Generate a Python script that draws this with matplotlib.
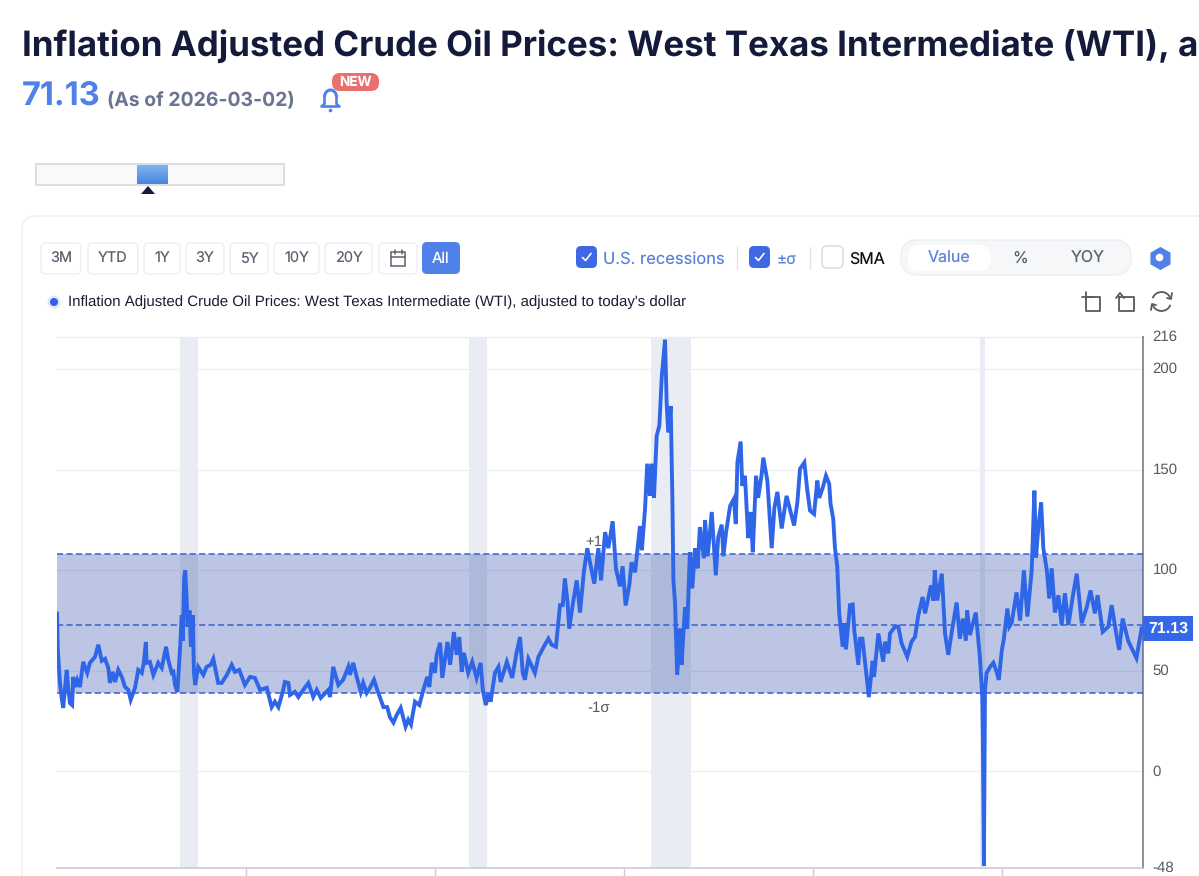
import matplotlib
matplotlib.use("Agg")
import matplotlib.pyplot as plt
from matplotlib.patches import FancyBboxPatch, Rectangle, Circle, Polygon, Arc
from matplotlib.transforms import ScaledTranslation

# ---------- data ----------
years = [1986.00,1986.03,1986.11,1986.17,1986.23,1986.30,1986.36,1986.42,1986.48,1986.56,1986.60,1986.67,1986.75,1986.85,1986.97,
1987.12,1987.22,1987.41,1987.53,1987.66,1987.78,1987.90,1987.96,1988.06,1988.15,1988.27,1988.40,1988.52,1988.64,1988.73,1988.89,
1989.01,1989.14,1989.22,1989.29,1989.32,1989.44,1989.57,1989.75,1989.88,1990.04,1990.12,1990.25,1990.31,1990.37,1990.46,1990.56,
1990.62,1990.66,1990.71,1990.75,1990.80,1990.84,1990.91,1990.96,1991.03,1991.07,1991.12,1991.23,1991.42,1991.54,1991.69,1991.79,
1991.97,1992.10,1992.29,1992.47,1992.59,1992.75,1992.96,1993.15,1993.33,1993.52,1993.77,1993.95,1994.07,1994.20,1994.38,1994.44,
1994.57,1994.63,1994.81,1994.94,1995.12,1995.31,1995.49,1995.62,1995.77,1996.05,1996.11,1996.23,1996.42,1996.60,1996.79,1996.85,
1996.97,1997.10,1997.25,1997.34,1997.47,1997.59,1997.74,1997.86,1998.09,1998.23,1998.33,1998.46,1998.58,1998.73,1998.91,1999.01,
1999.11,1999.26,1999.42,1999.57,1999.71,1999.79,1999.88,2000.00,2000.06,2000.19,2000.27,2000.46,2000.56,2000.70,2000.80,2000.90,
2000.99,2001.07,2001.23,2001.38,2001.54,2001.69,2001.77,2001.88,2001.98,2002.06,2002.22,2002.35,2002.43,2002.66,2002.86,2003.02,
2003.15,2003.25,2003.33,2003.46,2003.70,2003.83,2004.07,2004.20,2004.32,2004.48,2004.63,2004.73,2004.81,2004.91,2004.97,2005.12,
2005.25,2005.37,2005.52,2005.64,2005.74,2005.90,2006.05,2006.15,2006.30,2006.42,2006.58,2006.70,2006.85,2006.95,2007.06,2007.20,
2007.28,2007.41,2007.59,2007.66,2007.78,2007.86,2007.96,2008.02,2008.11,2008.21,2008.31,2008.40,2008.52,2008.58,2008.64,2008.73,
2008.79,2008.83,2008.89,2008.97,2009.07,2009.13,2009.26,2009.34,2009.44,2009.53,2009.63,2009.73,2009.81,2009.96,2010.00,2010.10,
2010.25,2010.40,2010.49,2010.62,2010.68,2010.78,2010.93,2011.07,2011.14,2011.20,2011.32,2011.38,2011.48,2011.60,2011.69,2011.77,
2011.89,2011.97,2012.10,2012.16,2012.31,2012.47,2012.57,2012.68,2012.84,2013.02,2013.30,2013.42,2013.52,2013.68,2013.79,2013.89,
2014.04,2014.16,2014.23,2014.36,2014.48,2014.60,2014.65,2014.75,2014.81,2014.90,2014.97,2015.10,2015.16,2015.22,2015.37,2015.47,
2015.53,2015.68,2015.74,2015.83,2015.93,2016.07,2016.21,2016.26,2016.42,2016.60,2016.67,2016.79,2016.85,2017.04,2017.16,2017.28,
2017.49,2017.65,2017.78,2017.90,2018.06,2018.15,2018.37,2018.46,2018.51,2018.60,2018.77,2018.89,2019.01,2019.14,2019.32,2019.44,
2019.55,2019.66,2019.71,2019.81,2020.03,2020.12,2020.18,2020.27,2020.29,2020.33,2020.37,2020.43,2020.56,2020.68,2020.80,2020.88,
2020.99,2021.07,2021.20,2021.27,2021.36,2021.54,2021.67,2021.81,2021.94,2022.10,2022.20,2022.26,2022.35,2022.45,2022.53,2022.66,
2022.75,2022.84,2022.96,2023.09,2023.21,2023.33,2023.46,2023.64,2023.77,2023.95,2024.14,2024.28,2024.44,2024.54,2024.73,2024.94,
2025.06,2025.25,2025.34,2025.47,2025.67,2025.98,2026.17]

prices = [78.5,60.4,44,37,31.6,42,50.5,40.6,34,33,47,42,45.5,42,54.5,
49,54,57,63,55,56,51.5,44,49.5,44.5,50.5,47,42,40.6,35.6,41.6,
50.5,49,54.5,64.4,54,54.5,48,54,51.5,62,55.5,49,49.5,43,39.6,62,
77.7,65,96.5,100,86,72,80,62,77.7,49.5,43,52,48,52,53,56,
44,44,48,53,49.5,50.5,43,47,46.5,40.6,41.6,32,34.7,32,40.6,44.5,
44,38,39.6,37,40.6,44,37,40.6,36.6,40.6,37,52,43,45.6,52,48,
54,47,39.6,44,39,41.6,45.6,40.6,32,32,27,24.3,28,31.6,22.3,25.7,
23.3,34.7,33,40.6,47,42,54,49,58,64,46.5,64.4,53,69.3,58,66.8,
49.5,59,49,54.5,46.5,54,40.6,33,39,34.7,49,52,44.5,54.5,46.5,59,
66.8,49,45.6,56,49,57,63,66,63,62,82.7,82.7,96,84,71,84.5,
95,79,100,111,104,93.4,111,95,119,111,124.4,101,92,102,82.5,93,
104,99,122,110,130.6,153,137,153,136,166.8,172,196.5,214.7,183,168.5,181.7,
137,95,84,48,71,53,81.7,71,109,91,111,101,121.5,106,125,107,
129,97.5,116.5,122.7,107,119,132,135.5,123,153.7,164,142,147,116,129,109,
147,136,148,156,144.5,111,131,139,120.8,137,122.3,133.7,150.5,153.6,139.6,129.7,
128,144.6,136,141,147,143,133,125.6,111.5,101.6,78.6,62,73.7,60.7,82.7,83,
70,53,66,66,54,37,55,47,68.6,54.6,64.5,58.7,68.6,72,72,63.8,
57,64.5,67,77.7,86.7,78.6,92.5,85,100,85,98.3,68.6,58,69.4,84,66,
76,65,80,67.8,79,66,57,37,18,-47,40.6,49,52,54,49.6,45.5,
60,66,81,72,74,89,75,100,77,100,139.6,106.4,122,133.7,111,100,
86,101,79,87.6,72.8,88.6,72.8,88.6,98.3,73.7,81.7,90,78.6,87.6,69.4,72,
82.7,67,60.4,76,65,56.4,71.13]

recession_starts = [1990.56, 2001.27, 2008.00, 2020.19]
recession_ends = [1991.22, 2001.93, 2009.48, 2020.37]
sigma_plus, sigma_mean, sigma_minus = 108.2, 73.0, 38.8
y_ticks = [-48, 0, 50, 100, 150, 200, 216]
x_ticks = [1993, 2000, 2007, 2014, 2021]
last_value = "71.13"

TITLE = "Inflation Adjusted Crude Oil Prices: West Texas Intermediate (WTI), a"
SERIES = "Inflation Adjusted Crude Oil Prices: West Texas Intermediate (WTI), adjusted to today's dollar"
ranges = ["3M", "YTD", "1Y", "3Y", "5Y", "10Y", "20Y"]
range_boxes = [(41, 81), (88, 138), (144, 180), (186, 224), (230, 268), (274, 319), (325, 372)]

BLUE = "#2f66e8"
UI_BLUE = "#4f81e8"
NAVY = "#141b3a"

plt.rcParams["font.family"] = ["Liberation Sans", "DejaVu Sans"]
plt.rcParams["axes.unicode_minus"] = False
plt.rcParams["text.hinting"] = "no_hinting"
plt.rcParams["text.hinting_factor"] = 1
fig = plt.figure(figsize=(11.99, 8.76), dpi=100, facecolor="white")

# ---------- interface chrome, in pixel coordinates ----------
ui = fig.add_axes([0, 0, 1, 1], zorder=0)
ui.set_xlim(0, 1199); ui.set_ylim(876, 0); ui.axis("off")
PT = 0.72

def rbox(x0, y0, x1, y1, r, fc, ec="none", lw=1.0, z=2):
    ui.add_patch(FancyBboxPatch((x0 + r, y0 + r), x1 - x0 - 2 * r, y1 - y0 - 2 * r,
                                boxstyle=f"round,pad={r},rounding_size={r}", fc=fc, ec=ec, lw=lw, zorder=z))

def txt(x, y, s, px, color, ha="left", weight="normal", fam=None, z=5):
    ui.text(x, y, s, fontsize=px * PT, color=color, ha=ha, va="center", fontweight=weight,
            family=fam or ["Liberation Sans", "DejaVu Sans"], zorder=z)

def line(xs, ys, color, lw=1.5, z=5):
    ui.plot(xs, ys, color=color, lw=lw, zorder=z, solid_capstyle="round", solid_joinstyle="round")

txt(22, 46.5, TITLE, 34.9, NAVY, weight="bold", fam=["Inter", "DejaVu Sans"])
txt(22, 97, last_value, 32.5, UI_BLUE, weight="bold", fam=["Inter", "DejaVu Sans"])
txt(107, 100, "(As of 2026-03-02)", 19.4, "#6b7590", weight="bold", fam=["Inter", "DejaVu Sans"])

# bell and badge
ui.add_patch(Arc((330.5, 97), 12, 14, theta1=180, theta2=360, ec=UI_BLUE, lw=2.2, zorder=5))
line([324.5, 324.5, 321.5, 339.5, 336.5, 336.5], [97, 104, 106.5, 106.5, 104, 97], UI_BLUE, 1.9)
ui.add_patch(Circle((330.5, 110.5), 1.8, fc=UI_BLUE, ec="none", zorder=5))
rbox(332, 73, 379, 91, 8, "#e8706f")
txt(355.5, 82, "NEW", 13.5, "white", ha="center", weight="bold", fam=["Inter"])

# mini slider
ui.add_patch(Rectangle((36, 164), 248, 21, fc="#f8f9fa", ec="#d5d8de", lw=1.2, zorder=2))
ui.imshow([[i / 20] for i in range(21)], extent=(137, 168, 184, 165), aspect="auto", zorder=3,
          cmap=matplotlib.colors.LinearSegmentedColormap.from_list("s", ["#7fb2ee", "#4a86e0"]))
ui.set_xlim(0, 1199); ui.set_ylim(876, 0)
ui.add_patch(Polygon([(141, 194), (155, 194), (148, 186)], fc=NAVY, ec="none", zorder=3))

# card
rbox(22, 216, 1260, 1000, 14, "white", ec="#eceef2", lw=1.0, z=1)

# range buttons
for lab, (x0, x1) in zip(ranges, range_boxes):
    rbox(x0, 243, x1, 274, 5, "white", ec="#eceef2", lw=1.0)
    txt((x0 + x1) / 2, 258.5, lab, 14.5, "#5b6270", ha="center", fam=["Inter"])
rbox(379, 243, 417, 274, 5, "white", ec="#eceef2", lw=1.0)
ui.add_patch(Rectangle((391, 252), 14, 14, fc="none", ec="#5b6270", lw=1.1, zorder=5))
line([391, 405], [256.5, 256.5], "#5b6270", 1.1)
line([394.5, 394.5], [250, 253.5], "#5b6270", 1.1)
line([401.5, 401.5], [250, 253.5], "#5b6270", 1.1)
rbox(422, 242, 460, 274, 5, UI_BLUE)
txt(441, 258.5, "All", 15, "white", ha="center", fam=["Inter"])

# check boxes
def check(x0):
    rbox(x0, 246, x0 + 21, 268, 5, "#3f68e4")
    line([x0 + 6.5, x0 + 9.5, x0 + 15], [257.5, 260.5, 253.5], "white", 1.2)

check(576)
txt(603, 259.5, "U.S. recessions", 16.5, "#5b82dc", fam=["Inter"])
line([737, 737], [247, 269], "#dfe2e8", 1.0)
check(749)
txt(777, 259.5, "±σ", 15.5, "#5b82dc", fam=["Inter", "DejaVu Sans"])
line([810, 810], [247, 269], "#dfe2e8", 1.0)
rbox(822, 246, 843, 268, 5, "white", ec="#d5d8de", lw=1.0)
txt(849, 259.5, "SMA", 16, "#111111", fam=["Inter"])

# value / % / YOY switch
rbox(901, 240, 1131, 275, 17, "#f6f7f9", ec="#eceef2", lw=1.0)
rbox(908, 245, 991, 271, 12, "white")
txt(949, 258, "Value", 16, "#5b82dc", ha="center", fam=["Inter"])
txt(1020, 258, "%", 16, "#5b6270", ha="center", fam=["Inter"])
txt(1088, 258, "YOY", 16, "#5b6270", ha="center", fam=["Inter"])

# gear
ui.plot([1159.5], [257.5], marker=(6, 0, 0), ms=20 * PT, color=UI_BLUE, mec=UI_BLUE, mew=2.0,
        solid_joinstyle="round", zorder=5)
ui.add_patch(Circle((1159.5, 257.5), 3.8, fc="white", ec="none", zorder=6))

# legend
ui.add_patch(Circle((54, 302), 6.5, fc="#dde6fb", ec="none", zorder=4))
ui.add_patch(Circle((54, 302), 4, fc="#2f5fe8", ec="none", zorder=5))
txt(68, 302.5, SERIES, 15.27, "#171c33")

# tool icons
G = "#555a63"
line([1086, 1086, 1100, 1100, 1086], [297, 311, 311, 297, 297], G, 1.3)
line([1082, 1094], [297, 297], G, 1.3)
line([1086, 1086], [292, 299], G, 1.3)
line([1119, 1134, 1134, 1119, 1119], [297, 297, 311, 311, 297], G, 1.3)
line([1116, 1120, 1124], [298, 293, 298], G, 1.3)
ui.add_patch(Arc((1161.5, 301.5), 19, 19, theta1=20, theta2=165, ec=G, lw=1.3, zorder=5))
ui.add_patch(Arc((1161.5, 301.5), 19, 19, theta1=200, theta2=345, ec=G, lw=1.3, zorder=5))
line([1167, 1171, 1172], [298, 299, 293], G, 1.3)
line([1156, 1152, 1151], [305, 304, 310], G, 1.3)

# ---------- chart ----------
ax = fig.add_axes([57 / 1199, 8 / 876, 1086 / 1199, 531 / 876], zorder=1)
ax.patch.set_alpha(0)
ax.set_xlim(1986, 1986 + 1086 / 27)
ax.set_ylim(-48, 216)

ax.set_yticks(y_ticks)
ax.yaxis.tick_right()
ax.tick_params(axis="y", length=0, pad=7, labelsize=10.6, labelcolor="#555a63")
lift = ScaledTranslation(0, 1.5 / 100, fig.dpi_scale_trans)
for lab in ax.get_yticklabels():
    lab.set_transform(lab.get_transform() + lift)
ax.set_xticks(x_ticks)
ax.set_xticklabels([])
ax.tick_params(axis="x", length=6, width=1, color="#c9ccd3")
for v in y_ticks[1:]:
    ax.axhline(v, color="#eceef3", lw=1.0, zorder=1, clip_on=False)

for s in ("top", "left"):
    ax.spines[s].set_visible(False)
ax.spines["right"].set_color("#8b8f97")
ax.spines["right"].set_linewidth(1.4)
ax.spines["bottom"].set_color("#c9ccd3")
ax.spines["bottom"].set_linewidth(1.2)

for a, b in zip(recession_starts, recession_ends):
    ax.axvspan(a, b, color="#e9ecf3", lw=0, zorder=2)

ax.axhspan(sigma_minus, sigma_plus, color="#3452ad", alpha=0.33, lw=0, zorder=3)
for v in (sigma_plus, sigma_mean, sigma_minus):
    ax.axhline(v, color="#3a5fd0", lw=1.1, ls=(0, (4, 2.2)), zorder=4)

ax.text(2006.07, 110.5, "+1σ", fontsize=10.5, color="#555a63", ha="center", va="bottom", zorder=4,
        family=["Liberation Sans", "DejaVu Sans"])
ax.text(2006.07, 35, "-1σ", fontsize=10.5, color="#555a63", ha="center", va="top", zorder=4,
        family=["Liberation Sans", "DejaVu Sans"])

ax.plot(years, prices, color=BLUE, lw=2.8, zorder=5, solid_joinstyle="miter")

# last-value tag
ax.annotate(last_value, xy=(1, 71.13), xycoords=("axes fraction", "data"), xytext=(3.5, 0),
            textcoords="offset points", fontsize=11.4, fontweight="bold", color="white", va="center", ha="left",
            annotation_clip=False, zorder=6,
            bbox=dict(boxstyle="square,pad=0.3", fc="#3568e8", ec="none"))

fig.savefig("out.png", dpi=100, facecolor="white")
